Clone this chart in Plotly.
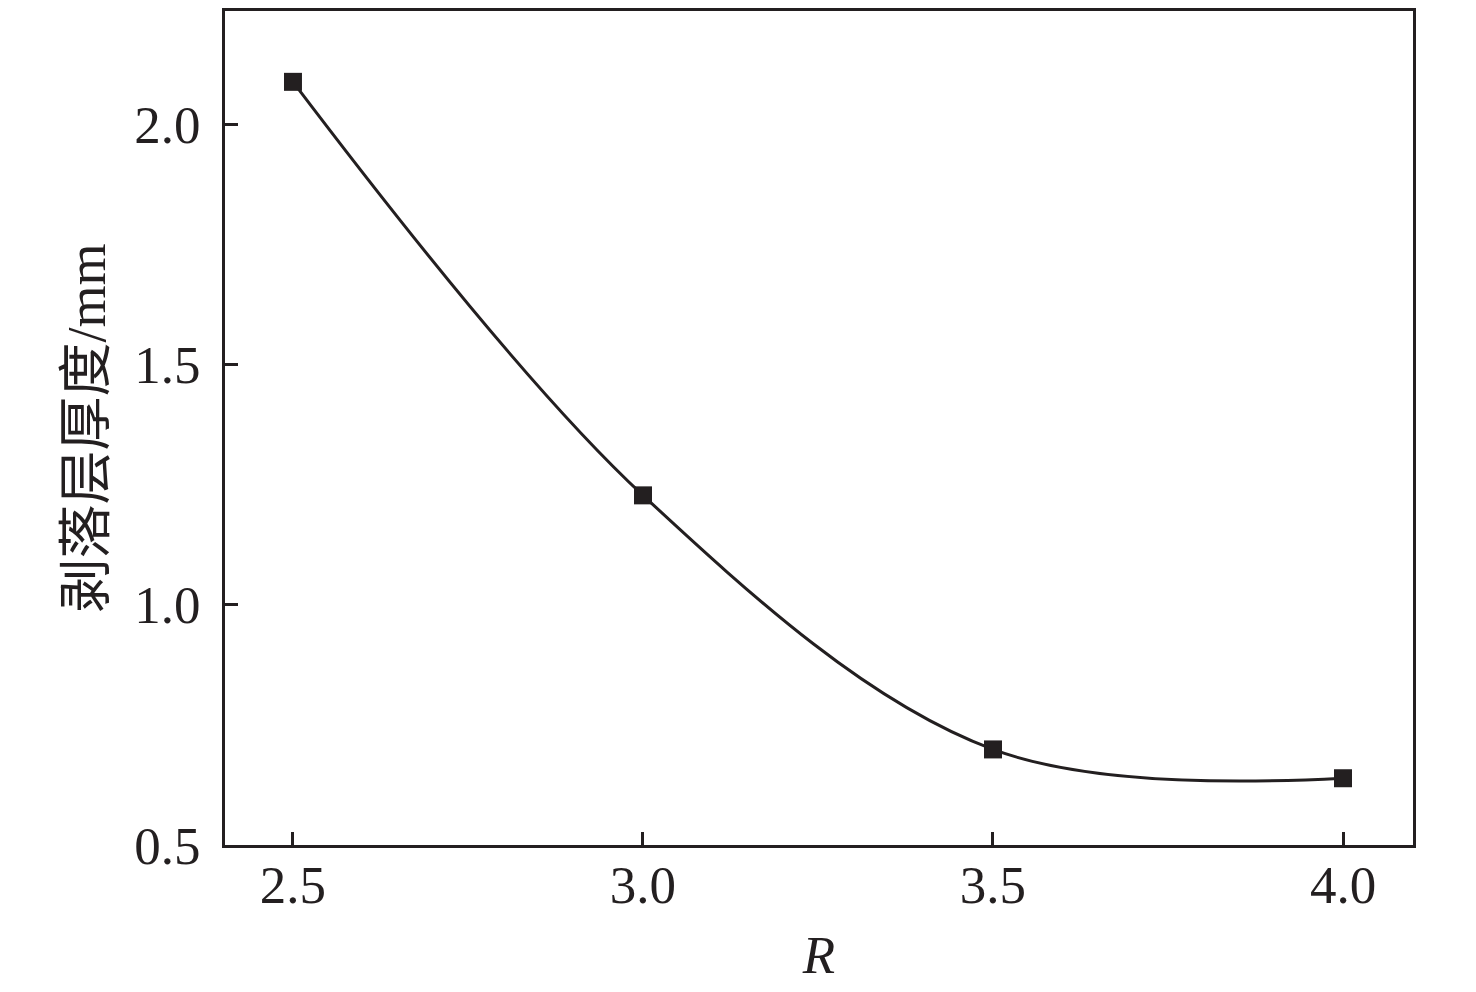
import plotly.graph_objects as go

R_values = [2.5, 3.0, 3.5, 4.0]
thickness_mm = [2.089, 1.228, 0.699, 0.639]
x_ticks = [2.5, 3.0, 3.5, 4.0]
x_tick_labels = ["2.5", "3.0", "3.5", "4.0"]
y_ticks = [0.5, 1.0, 1.5, 2.0]
y_tick_labels = ["0.5", "1.0", "1.5", "2.0"]

ink = "#231f20"
serif = "Liberation Serif, Times New Roman, Noto Sans CJK SC, serif"

fig = go.Figure()
fig.add_trace(go.Scatter(
    x=R_values, y=thickness_mm,
    mode="lines+markers",
    line=dict(color=ink, width=3, shape="spline", smoothing=1.0),
    marker=dict(symbol="square", size=18, color=ink),
    showlegend=False,
))

fig.update_layout(
    width=1476, height=992,
    paper_bgcolor="white", plot_bgcolor="white",
    margin=dict(l=217, r=71, t=0, b=155),
    font=dict(family=serif, size=53, color=ink),
    xaxis=dict(
        range=[2.4029, 4.1],
        tickvals=x_ticks, ticktext=x_tick_labels,
        ticks="inside", ticklen=13, tickwidth=3, tickcolor=ink,
        showline=True, linewidth=3, linecolor=ink, mirror=True,
        showgrid=False, zeroline=False,
        ticklabelstandoff=-9,
        tickfont=dict(family=serif, size=53, color=ink),
        title=dict(text="<i>R</i>", font=dict(family=serif, size=53, color=ink), standoff=24),
    ),
    yaxis=dict(
        range=[0.5, 2.2365],
        tickvals=y_ticks, ticktext=y_tick_labels,
        ticks="inside", ticklen=13, tickwidth=3, tickcolor=ink,
        showline=True, linewidth=3, linecolor=ink, mirror=True,
        showgrid=False, zeroline=False,
        ticklabelstandoff=11,
        tickfont=dict(family=serif, size=53, color=ink),
        title=dict(text="剥落层厚度/mm", font=dict(family=serif, size=54, color=ink), standoff=12),
    ),
)

fig.write_html("out.html")
